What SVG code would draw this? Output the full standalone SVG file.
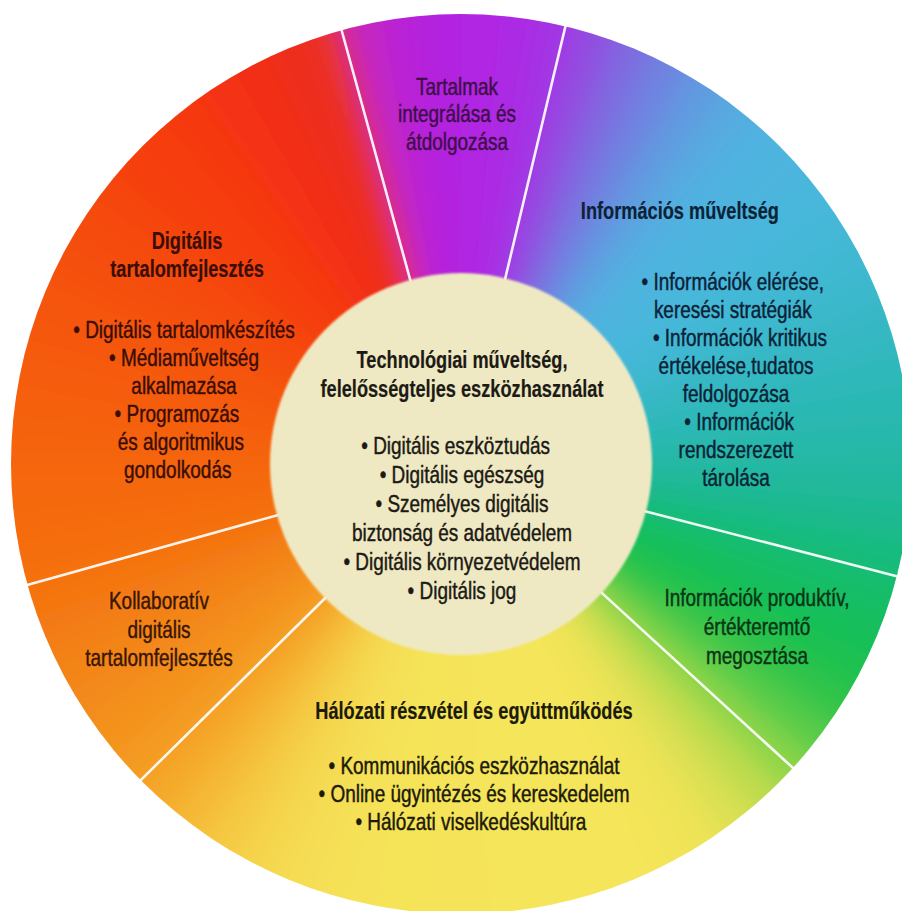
<svg xmlns="http://www.w3.org/2000/svg" width="902" height="911" viewBox="0 0 902 911">
<style>
text{font-family:"Liberation Sans",Arial,sans-serif;font-size:24px;text-anchor:middle;stroke-width:0.45}
.b{font-weight:bold;stroke-width:0.2}
.sep{stroke:#ffffff;stroke-width:2.6;stroke-linecap:round;opacity:0.92}
</style>
<defs>
<path id="w" d="M0 0 L520 0 A520 520 0 0 1 517.2 54.4 Z"/>
<clipPath id="disc"><circle cx="461" cy="464" r="450"/></clipPath>
<filter id="soft" x="-10%" y="-10%" width="120%" height="120%"><feGaussianBlur stdDeviation="13"/></filter>
<filter id="edge" x="-5%" y="-5%" width="110%" height="110%"><feGaussianBlur stdDeviation="1"/></filter>
</defs>
<rect width="902" height="911" fill="#ffffff"/>
<g id="wheel" clip-path="url(#disc)">
<g filter="url(#soft)">
<g transform="translate(461 464)">
<use href="#w" transform="rotate(-110)" fill="#e6302e"/>
<use href="#w" transform="rotate(-105)" fill="#c426c0"/>
<use href="#w" transform="rotate(-100)" fill="#b824d8"/>
<use href="#w" transform="rotate(-95)" fill="#b224e0"/>
<use href="#w" transform="rotate(-90)" fill="#b026e2"/>
<use href="#w" transform="rotate(-85)" fill="#ac2ae4"/>
<use href="#w" transform="rotate(-80)" fill="#a236e4"/>
<use href="#w" transform="rotate(-75)" fill="#9050e0"/>
<use href="#w" transform="rotate(-70)" fill="#7e6ce0"/>
<use href="#w" transform="rotate(-65)" fill="#6e84e0"/>
<use href="#w" transform="rotate(-60)" fill="#609ae0"/>
<use href="#w" transform="rotate(-55)" fill="#56aae0"/>
<use href="#w" transform="rotate(-50)" fill="#50b2e0"/>
<use href="#w" transform="rotate(-45)" fill="#4db5de"/>
<use href="#w" transform="rotate(-40)" fill="#4ab6dc"/>
<use href="#w" transform="rotate(-35)" fill="#45b8d8"/>
<use href="#w" transform="rotate(-30)" fill="#40b8d2"/>
<use href="#w" transform="rotate(-25)" fill="#3ab8ca"/>
<use href="#w" transform="rotate(-20)" fill="#34b8c2"/>
<use href="#w" transform="rotate(-15)" fill="#2eb8ba"/>
<use href="#w" transform="rotate(-10)" fill="#2ab8b2"/>
<use href="#w" transform="rotate(-5)" fill="#25b8a8"/>
<use href="#w" transform="rotate(0)" fill="#20b89e"/>
<use href="#w" transform="rotate(5)" fill="#1cb990"/>
<use href="#w" transform="rotate(10)" fill="#18bb7c"/>
<use href="#w" transform="rotate(15)" fill="#15bd68"/>
<use href="#w" transform="rotate(20)" fill="#15bf5a"/>
<use href="#w" transform="rotate(25)" fill="#1cc150"/>
<use href="#w" transform="rotate(30)" fill="#30c44a"/>
<use href="#w" transform="rotate(35)" fill="#58cc48"/>
<use href="#w" transform="rotate(40)" fill="#8cd44a"/>
<use href="#w" transform="rotate(45)" fill="#bcdc4e"/>
<use href="#w" transform="rotate(50)" fill="#dce052"/>
<use href="#w" transform="rotate(55)" fill="#eee356"/>
<use href="#w" transform="rotate(60)" fill="#f3e458"/>
<use href="#w" transform="rotate(65)" fill="#f5e55a"/>
<use href="#w" transform="rotate(70)" fill="#f5e55a"/>
<use href="#w" transform="rotate(75)" fill="#f5e55a"/>
<use href="#w" transform="rotate(80)" fill="#f5e55a"/>
<use href="#w" transform="rotate(85)" fill="#f5e45a"/>
<use href="#w" transform="rotate(90)" fill="#f5e45a"/>
<use href="#w" transform="rotate(95)" fill="#f5e358"/>
<use href="#w" transform="rotate(100)" fill="#f5e258"/>
<use href="#w" transform="rotate(105)" fill="#f5e056"/>
<use href="#w" transform="rotate(110)" fill="#f5dc52"/>
<use href="#w" transform="rotate(115)" fill="#f5d44c"/>
<use href="#w" transform="rotate(120)" fill="#f5c842"/>
<use href="#w" transform="rotate(125)" fill="#f5b836"/>
<use href="#w" transform="rotate(130)" fill="#f5a82a"/>
<use href="#w" transform="rotate(135)" fill="#f49a22"/>
<use href="#w" transform="rotate(140)" fill="#f4921e"/>
<use href="#w" transform="rotate(145)" fill="#f38a1c"/>
<use href="#w" transform="rotate(150)" fill="#f38418"/>
<use href="#w" transform="rotate(155)" fill="#f37c14"/>
<use href="#w" transform="rotate(160)" fill="#f47410"/>
<use href="#w" transform="rotate(165)" fill="#f56e0c"/>
<use href="#w" transform="rotate(170)" fill="#f56a0a"/>
<use href="#w" transform="rotate(175)" fill="#f5670a"/>
<use href="#w" transform="rotate(180)" fill="#f5640a"/>
<use href="#w" transform="rotate(185)" fill="#f5600a"/>
<use href="#w" transform="rotate(190)" fill="#f55c0b"/>
<use href="#w" transform="rotate(195)" fill="#f5580c"/>
<use href="#w" transform="rotate(200)" fill="#f5540d"/>
<use href="#w" transform="rotate(205)" fill="#f5500e"/>
<use href="#w" transform="rotate(210)" fill="#f54b0e"/>
<use href="#w" transform="rotate(215)" fill="#f5460f"/>
<use href="#w" transform="rotate(220)" fill="#f54110"/>
<use href="#w" transform="rotate(225)" fill="#f53c10"/>
<use href="#w" transform="rotate(230)" fill="#f53711"/>
<use href="#w" transform="rotate(235)" fill="#f43312"/>
<use href="#w" transform="rotate(240)" fill="#f22f16"/>
<use href="#w" transform="rotate(245)" fill="#ee2e1e"/>
</g>
</g>
</g>
<g id="separators">
<line class="sep" x1="410.5" y1="280.8" x2="341" y2="28"/>
<line class="sep" x1="503.9" y1="284" x2="566.6" y2="21.4"/>
<line class="sep" x1="640.2" y1="510.1" x2="901.6" y2="577.4"/>
<line class="sep" x1="597.4" y1="588.9" x2="796.6" y2="771.3"/>
<line class="sep" x1="329.3" y1="594" x2="137.2" y2="783.6"/>
<line class="sep" x1="282.8" y1="513.7" x2="22.7" y2="586.2"/>
</g>
<g id="center">
<circle cx="461" cy="464" r="191" fill="#efe9c3" filter="url(#edge)"/>
<g transform="translate(462 0) scale(0.79 1)" fill="#1c1a14" stroke="#1c1a14">
<g transform="scale(0.96 1)">
<text class="b" x="0" y="368">Technológiai műveltség,</text>
<text class="b" x="0" y="397">felelősségteljes eszközhasználat</text>
</g>
<text x="-8" y="454">• Digitális eszköztudás</text>
<text x="0" y="483">• Digitális egészség</text>
<text x="0" y="512">• Személyes digitális</text>
<text x="0" y="541">biztonság és adatvédelem</text>
<text x="0" y="570">• Digitális környezetvédelem</text>
<text x="0" y="599">• Digitális jog</text>
</g>
</g>
<g id="integration" transform="translate(457 0) scale(0.79 1)" fill="#3e0f48" stroke="#3e0f48">
<text x="0" y="95">Tartalmak</text>
<text x="0" y="122">integrálása és</text>
<text x="0" y="150">átdolgozása</text>
</g>
<g id="information" transform="translate(736 0) scale(0.79 1)" fill="#0c2236" stroke="#0c2236">
<g transform="scale(0.96 1)">
<text class="b" x="-74" y="219">Információs műveltség</text>
</g>
<text x="-4" y="290">• Információk elérése,</text>
<text x="-4" y="318">keresési stratégiák</text>
<text x="5" y="346">• Információk kritikus</text>
<text x="0" y="374">értékelése,tudatos</text>
<text x="0" y="402">feldolgozása</text>
<text x="4" y="430">• Információk</text>
<text x="0" y="458">rendszerezett</text>
<text x="0" y="486">tárolása</text>
</g>
<g id="sharing" transform="translate(757 0) scale(0.79 1)" fill="#0b3516" stroke="#0b3516">
<text x="0" y="606">Információk produktív,</text>
<text x="0" y="635">értékteremtő</text>
<text x="0" y="664">megosztása</text>
</g>
<g id="network" transform="translate(474 0) scale(0.79 1)" fill="#1c1a0a" stroke="#1c1a0a">
<g transform="scale(0.96 1)">
<text class="b" x="0" y="719">Hálózati részvétel és együttműködés</text>
</g>
<text x="0" y="774">• Kommunikációs eszközhasználat</text>
<text x="0" y="802">• Online ügyintézés és kereskedelem</text>
<text x="-4" y="830">• Hálózati viselkedéskultúra</text>
</g>
<g id="collab" transform="translate(159 0) scale(0.79 1)" fill="#3a1606" stroke="#3a1606">
<text x="0" y="609">Kollaboratív</text>
<text x="0" y="638">digitális</text>
<text x="0" y="666">tartalomfejlesztés</text>
</g>
<g id="content" transform="translate(184 0) scale(0.79 1)" fill="#3a0e05" stroke="#3a0e05">
<g transform="scale(0.96 1)">
<text class="b" x="4" y="249">Digitális</text>
<text class="b" x="4" y="277">tartalomfejlesztés</text>
</g>
<text x="0" y="338">• Digitális tartalomkészítés</text>
<text x="0" y="366">• Médiaműveltség</text>
<text x="0" y="394">alkalmazása</text>
<text x="-9" y="422">• Programozás</text>
<text x="-4" y="450">és algoritmikus</text>
<text x="-8" y="478">gondolkodás</text>
</g>
</svg>
